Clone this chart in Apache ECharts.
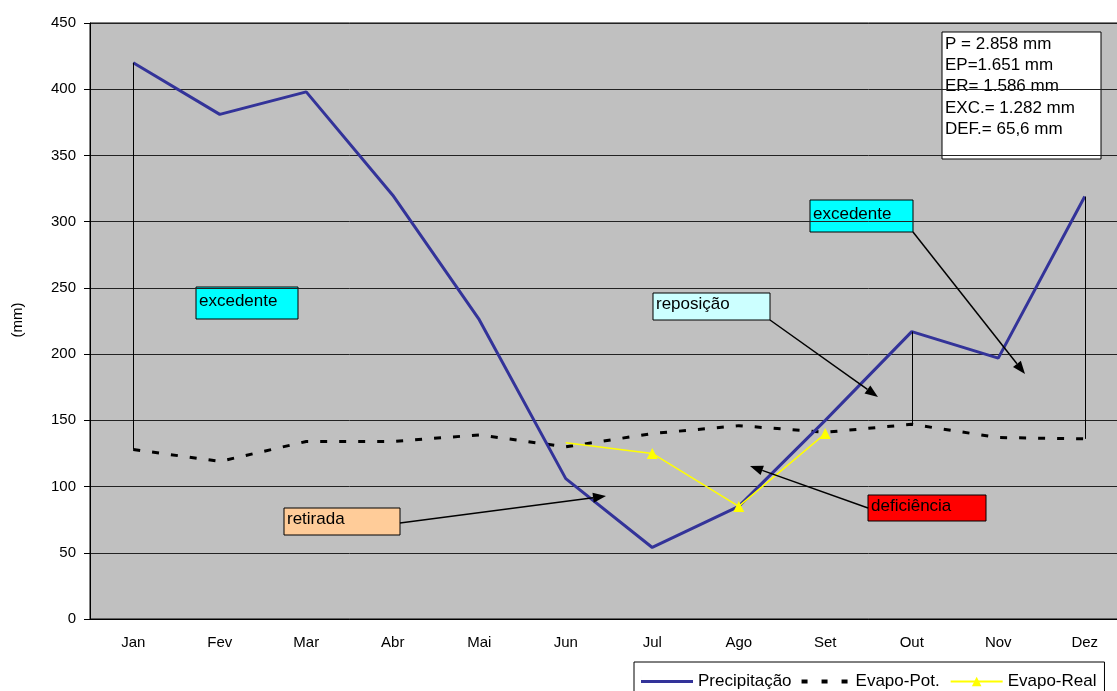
<!DOCTYPE html>
<html>
<head>
<meta charset="utf-8">
<script src="https://cdn.jsdelivr.net/npm/echarts@6/dist/echarts.min.js"></script>
<style>
  html, body { margin: 0; padding: 0; background: #fff; overflow: hidden; }
  /* o gráfico original é cortado à direita, por isso o div é mais largo que a janela */
  #chart { width: 1132px; height: 691px; }
</style>
</head>
<body>
<div id="chart"></div>
<script>
// meses e valores
const months = ['Jan', 'Fev', 'Mar', 'Abr', 'Mai', 'Jun', 'Jul', 'Ago', 'Set', 'Out', 'Nov', 'Dez']
const precip = [420, 381, 398, 320, 226, 106, 54, 85, 150, 217, 197, 319]
const evapPot = [128, 119, 134, 134, 139, 130, 140, 146, 141, 147, 137, 136]
const evapReal = [null, null, null, null, null, 133, 125, 85, 140, null, null, null]
const dropMonths = ['Jan', 'Out', 'Dez']
const yTicks = [0, 50, 100, 150, 200, 250, 300, 350, 400, 450]
const summary = ['P = 2.858 mm', 'EP=1.651 mm', 'ER= 1.586 mm', 'EXC.= 1.282 mm', 'DEF.= 65,6 mm']

const font = 'Arial, "Liberation Sans", sans-serif'
const myChart = echarts.init(document.getElementById('chart'))

// linhas verticais (excedente) entre precipitação e evapo-pot
const dropLines = dropMonths.map(m => {
  const i = months.indexOf(m)
  return [{ coord: [m, precip[i]] }, { coord: [m, evapPot[i]] }]
})

// caixas de texto
function label(x, y, w, h, text, fill) {
  return {
    type: 'group', x: x, y: y, z: 100,
    children: [
      { type: 'rect', shape: { x: 0, y: 0, width: w, height: h }, style: { fill: fill, stroke: '#000', lineWidth: 1 } },
      { type: 'text', x: 3, y: h / 2 - 2, style: { text: text, font: '17px ' + font, fill: '#000', verticalAlign: 'middle' } }
    ]
  }
}

// seta simples
function arrow(x1, y1, x2, y2) {
  const a = Math.atan2(y2 - y1, x2 - x1)
  const len = 13, half = 5
  const bx = x2 - len * Math.cos(a), by = y2 - len * Math.sin(a)
  const px = -Math.sin(a) * half, py = Math.cos(a) * half
  return [
    { type: 'line', z: 100, shape: { x1: x1, y1: y1, x2: bx, y2: by }, style: { stroke: '#000', lineWidth: 1.5 } },
    { type: 'polygon', z: 100, shape: { points: [[x2, y2], [bx + px, by + py], [bx - px, by - py]] }, style: { fill: '#000' } }
  ]
}

const graphics = [
  label(196, 287, 102, 32, 'excedente', '#00FFFF'),
  label(810, 200, 103, 32, 'excedente', '#00FFFF'),
  label(653, 293, 117, 27, 'reposição', '#CCFFFF'),
  label(284, 508, 116, 27, 'retirada', '#FFCC99'),
  label(868, 495, 118, 26, 'deficiência', '#FF0000'),
  ...arrow(400, 523, 606, 496),
  ...arrow(770, 320, 878, 397),
  ...arrow(913, 232, 1025, 374),
  ...arrow(868, 508, 750, 466),
  {
    type: 'group', x: 942, y: 32, z: 100,
    children: [
      { type: 'rect', shape: { x: 0, y: 0, width: 159, height: 127 }, style: { fill: '#fff', stroke: '#000', lineWidth: 1 } },
      ...summary.map((t, i) => ({
        type: 'text', x: 3, y: 12 + i * 21.3,
        style: { text: t, font: '17px ' + font, fill: '#000', verticalAlign: 'middle' }
      }))
    ]
  },
  {
    type: 'text', x: 18, y: 320, rotation: Math.PI / 2,
    style: { text: '(mm)', font: '15px ' + font, fill: '#000', align: 'center', verticalAlign: 'middle' }
  }
]

// ícones da legenda (a caixa de 0..12 mantém a altura)
const iconSolid = 'path://M0,0h0.01v12h-0.01z M0,4.5h52v3h-52z'
const iconDash = 'path://M0,0h0.01v12h-0.01z M0,4h6v4h-6z M20,4h6v4h-6z M40,4h6v4h-6z'

const option = {
  animation: false,
  textStyle: { fontFamily: font },
  grid: {
    left: 90, top: 23, width: 1038, bottom: 72,
    show: true, backgroundColor: '#C0C0C0', borderColor: '#000', borderWidth: 1
  },
  legend: {
    left: 634, top: 662, padding: [11, 8, 10, 7],
    backgroundColor: '#fff', borderColor: '#000', borderWidth: 1,
    itemWidth: 52, itemHeight: 12, itemGap: 10,
    textStyle: { fontSize: 17, color: '#000', fontFamily: font },
    data: [
      { name: 'Precipitação', icon: iconSolid, itemStyle: { color: '#333399' } },
      { name: 'Evapo-Pot.', icon: iconDash, itemStyle: { color: '#000' } },
      { name: 'Evapo-Real' }
    ]
  },
  xAxis: {
    type: 'category',
    data: months,
    boundaryGap: true,
    axisLine: { lineStyle: { color: '#000' } },
    axisTick: { length: 6, lineStyle: { color: '#000' } },
    axisLabel: { color: '#000', fontSize: 15, margin: 16 },
    splitLine: { show: false }
  },
  yAxis: {
    type: 'value',
    min: yTicks[0], max: yTicks[yTicks.length - 1], interval: 50,
    axisLine: { show: true, lineStyle: { color: '#000' } },
    axisTick: { show: true, length: 6, lineStyle: { color: '#000' } },
    axisLabel: { color: '#000', fontSize: 15, margin: 14 },
    splitLine: { lineStyle: { color: '#222', width: 1 } }
  },
  series: [
    {
      name: 'Precipitação', type: 'line', data: precip,
      symbol: 'none', z: 3,
      lineStyle: { color: '#333399', width: 3 },
      itemStyle: { color: '#333399' },
      markLine: {
        silent: true, symbol: 'none', label: { show: false },
        lineStyle: { color: '#000', width: 1, type: 'solid' },
        data: dropLines
      }
    },
    {
      name: 'Evapo-Pot.', type: 'line', data: evapPot,
      symbol: 'none', z: 2,
      lineStyle: { color: '#000', width: 3, type: [7, 12] },
      itemStyle: { color: '#000' }
    },
    {
      name: 'Evapo-Real', type: 'line',
      data: evapReal.map((v, i) => (v !== null && evapReal[i - 1] === null) ? { value: v, symbol: 'none' } : v),
      symbol: 'triangle', symbolSize: 11, z: 4,
      lineStyle: { color: '#FFFF00', width: 1.5 },
      itemStyle: { color: '#FFFF00' }
    }
  ],
  graphic: graphics
}

myChart.setOption(option)
window.addEventListener('resize', function () {
  myChart.resize()
})
</script>
</body>
</html>
